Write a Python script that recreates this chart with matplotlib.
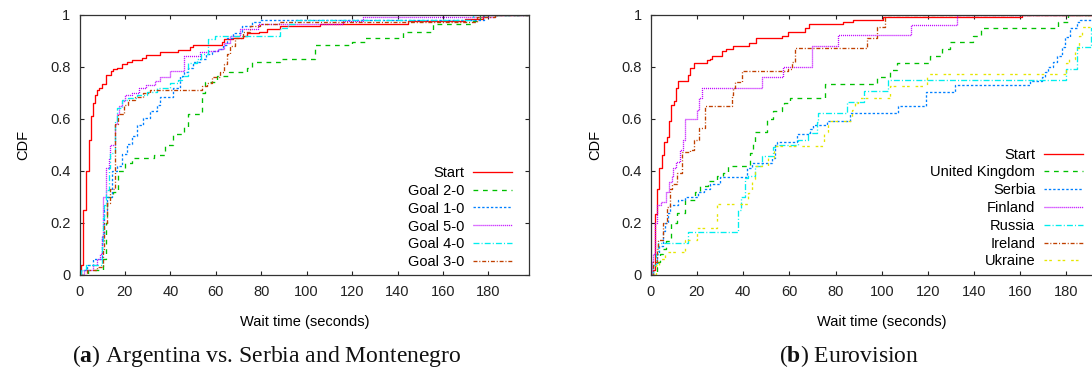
import matplotlib
matplotlib.use("Agg")
import matplotlib.pyplot as plt

plt.rcParams['font.family'] = ['Liberation Sans', 'DejaVu Sans']
plt.rcParams['mathtext.fontset'] = 'custom'
plt.rcParams['mathtext.rm'] = 'Liberation Serif'
plt.rcParams['mathtext.bf'] = 'Liberation Serif:bold'

# ---------------- data: panel (a) ----------------
a_labels = ["Start", "Goal 2-0", "Goal 1-0", "Goal 5-0", "Goal 4-0", "Goal 3-0"]

a_start_x = [0, 0.7, 1.7, 2.9, 4.0, 4.9, 5.8, 7.0, 7.9, 8.8, 9.8, 11.7, 13.7, 14.9, 16.7, 18.7, 20.7, 23.0,
             27.4, 29.3, 35.4, 43.5, 48.6, 50.1, 62.6, 63.6, 67.7, 71.8, 73.9, 79.2, 82.4, 88.3, 105.9,
             144.8, 169.8, 177.8, 200]
a_start_y = [0, 0.04, 0.25, 0.40, 0.52, 0.61, 0.66, 0.69, 0.71, 0.72, 0.735, 0.77, 0.785, 0.79, 0.795, 0.81,
             0.82, 0.825, 0.835, 0.845, 0.855, 0.865, 0.875, 0.885, 0.895, 0.905, 0.91, 0.92, 0.93, 0.935,
             0.945, 0.955, 0.965, 0.975, 0.985, 1.0, 1.0]

a_g20_x = [0, 3.9, 10.5, 11.5, 12.0, 14.9, 17.1, 19.9, 23.0, 33.0, 37.6, 41.3, 46.0, 47.9, 53.8, 55.3, 60.4,
           65.6, 73.6, 75.8, 88.3, 103.7, 119.8, 125.7, 142.6, 155.8, 173.4, 176.4, 200]
a_g20_y = [0, 0.02, 0.06, 0.20, 0.30, 0.32, 0.40, 0.43, 0.45, 0.46, 0.50, 0.54, 0.57, 0.62, 0.70, 0.74, 0.765,
           0.78, 0.795, 0.82, 0.83, 0.885, 0.895, 0.91, 0.935, 0.963, 0.976, 1.0, 1.0]

a_g10_x = [0, 0.8, 3.2, 6.1, 10.0, 11.0, 12.0, 14.2, 16.4, 18.6, 20.8, 23.0, 25.5, 28.1, 31.0, 34.0, 35.4,
           41.3, 44.2, 46.2, 47.9, 50.1, 53.0, 55.7, 58.2, 61.1, 63.3, 64.8, 67.7, 71.4, 75.8, 80.0, 178, 200]
a_g10_y = [0, 0.02, 0.04, 0.06, 0.15, 0.25, 0.30, 0.40, 0.42, 0.465, 0.505, 0.535, 0.575, 0.605, 0.63, 0.655,
           0.685, 0.72, 0.765, 0.78, 0.795, 0.82, 0.83, 0.85, 0.86, 0.87, 0.885, 0.91, 0.93, 0.955, 0.973,
           0.98, 1.0, 1.0]

a_g50_x = [0, 1.8, 6.1, 7.8, 9.0, 9.8, 10.5, 11.7, 12.8, 13.5, 15.7, 16.7, 17.6, 18.6, 20.0, 23.0, 26.3,
           29.4, 33.1, 35.4, 39.9, 46.2, 53.1, 56.8, 61.1, 63.5, 66.2, 70.7, 78.7, 116.2, 125.0, 183.0, 200]
a_g50_y = [0, 0.02, 0.04, 0.06, 0.08, 0.15, 0.30, 0.41, 0.45, 0.50, 0.58, 0.62, 0.65, 0.67, 0.69, 0.70, 0.72,
           0.73, 0.745, 0.76, 0.785, 0.84, 0.855, 0.86, 0.87, 0.89, 0.918, 0.945, 0.964, 0.975, 0.99, 1.0, 1.0]

a_g40_x = [0, 0.6, 2.7, 9.8, 10.3, 10.8, 11.7, 12.8, 13.5, 15.7, 16.7, 18.6, 21.5, 25.1, 29.7, 34.0, 39.9,
           43.5, 45.0, 47.9, 51.6, 53.5, 56.7, 59.7, 88.3, 92.0, 95.0, 173.0, 200]
a_g40_y = [0, 0.02, 0.04, 0.12, 0.22, 0.27, 0.327, 0.41, 0.47, 0.59, 0.64, 0.672, 0.68, 0.69, 0.704, 0.72,
           0.739, 0.75, 0.765, 0.813, 0.83, 0.85, 0.905, 0.92, 0.95, 0.965, 0.98, 1.0, 1.0]

a_g30_x = [0, 3.2, 7.6, 10.3, 11.0, 12.0, 13.5, 15.7, 17.0, 19.4, 21.5, 24.4, 28.1, 31.0, 53.8, 56.1, 58.2,
           61.8, 63.6, 64.8, 66.2, 68.5, 72.0, 75.1, 79.6, 88.0, 175.0, 183.0, 200]
a_g30_y = [0, 0.02, 0.03, 0.10, 0.20, 0.276, 0.33, 0.58, 0.62, 0.653, 0.672, 0.685, 0.698, 0.711, 0.725,
           0.739, 0.76, 0.78, 0.81, 0.85, 0.88, 0.909, 0.935, 0.955, 0.965, 0.973, 0.99, 1.0, 1.0]

# ---------------- data: panel (b) ----------------
b_labels = ["Start", "United Kingdom", "Serbia", "Finland", "Russia", "Ireland", "Ukraine"]

b_start_x = [0, 1.2, 1.9, 2.9, 3.8, 4.9, 5.8, 6.9, 8.1, 8.8, 10.1, 11.0, 12.0, 16.3, 17.0, 18.8, 24.5, 25.7,
             26.4, 30.7, 32.6, 35.8, 42.7, 45.6, 56.7, 59.6, 66.8, 68.7, 83.4, 87.7, 100.7, 160.6, 205]
b_start_y = [0, 0.02, 0.235, 0.33, 0.41, 0.46, 0.51, 0.53, 0.59, 0.655, 0.67, 0.72, 0.745, 0.77, 0.795,
             0.815, 0.825, 0.83, 0.84, 0.86, 0.87, 0.88, 0.89, 0.91, 0.92, 0.935, 0.95, 0.965, 0.972, 0.98,
             0.99, 1.0, 1.0]

b_uk_x = [0, 2.6, 3.3, 4.0, 5.2, 6.6, 8.7, 11.5, 14.9, 19.2, 21.4, 25.0, 28.6, 31.5, 33.6, 43.0, 44.4, 45.0,
          50.2, 53.1, 56.7, 57.7, 60.3, 75.5, 97.8, 103.5, 106.7, 120.9, 126.0, 129.6, 139.7, 142.9, 176.5,
          180.8, 205]
b_uk_y = [0, 0.03, 0.05, 0.08, 0.10, 0.13, 0.20, 0.24, 0.29, 0.32, 0.34, 0.36, 0.38, 0.39, 0.42, 0.47, 0.51,
          0.55, 0.60, 0.63, 0.65, 0.66, 0.68, 0.735, 0.762, 0.788, 0.816, 0.843, 0.868, 0.896, 0.919, 0.948,
          0.973, 1.0, 1.0]

b_serbia_x = [0, 1.2, 2.6, 3.8, 5.2, 6.2, 7.6, 8.4, 12.0, 14.9, 20.6, 23.0, 25.7, 30.0, 41.6, 43.7, 52.4,
              53.8, 54.8, 63.2, 69.0, 70.4, 76.2, 86.3, 107.2, 119.2, 131.7, 164.2, 169.3, 170.8, 172.2,
              174.3, 175.7, 177.9, 179.3, 181.4, 184.6, 185.7, 205]
b_serbia_y = [0, 0.04, 0.08, 0.11, 0.17, 0.20, 0.24, 0.27, 0.29, 0.30, 0.32, 0.33, 0.35, 0.375, 0.41, 0.43,
              0.45, 0.50, 0.51, 0.54, 0.56, 0.575, 0.593, 0.621, 0.649, 0.702, 0.73, 0.745, 0.76, 0.78, 0.80,
              0.82, 0.84, 0.877, 0.916, 0.948, 0.971, 0.98, 0.98]

b_finland_x = [0, 0.4, 0.9, 1.9, 2.6, 4.3, 6.6, 8.1, 9.1, 9.8, 11.0, 12.7, 14.1, 14.9, 20.2, 21.1, 22.1,
               48.1, 57.4, 69.7, 81.2, 112.7, 132.7, 205]
b_finland_y = [0, 0.05, 0.08, 0.20, 0.27, 0.28, 0.32, 0.358, 0.38, 0.41, 0.435, 0.48, 0.52, 0.60, 0.634,
               0.68, 0.72, 0.76, 0.80, 0.88, 0.922, 0.96, 1.0, 1.0]

b_russia_x = [0, 1.2, 2.3, 3.3, 16.3, 38.0, 39.0, 40.8, 42.3, 45.2, 48.0, 53.1, 54.5, 63.9, 68.3, 71.9, 72.5,
              84.8, 92.2, 102.6, 179.8, 184.6, 190.8, 205]
b_russia_y = [0, 0.04, 0.08, 0.122, 0.166, 0.25, 0.30, 0.371, 0.38, 0.42, 0.458, 0.49, 0.50, 0.52, 0.544,
              0.589, 0.624, 0.666, 0.707, 0.749, 0.791, 0.875, 0.95, 0.95]

b_ireland_x = [0, 1.2, 2.6, 3.3, 5.5, 7.0, 8.4, 9.1, 11.5, 13.4, 16.8, 18.8, 21.1, 23.5, 35.1, 35.8, 36.5,
               39.4, 59.6, 61.0, 62.5, 93.5, 97.8, 101.4, 205]
b_ireland_y = [0, 0.05, 0.10, 0.134, 0.20, 0.26, 0.33, 0.35, 0.39, 0.474, 0.48, 0.519, 0.563, 0.649, 0.69,
               0.72, 0.74, 0.784, 0.79, 0.82, 0.871, 0.909, 0.954, 1.0, 1.0]

b_ukraine_x = [0, 2.3, 3.8, 6.2, 14.9, 20.2, 28.9, 42.3, 43.7, 45.2, 50.9, 53.4, 75.0, 76.9, 87.0, 88.4,
               89.9, 103.5, 119.6, 179.8, 181.0, 183.7, 185.5, 186.5, 205]
b_ukraine_y = [0, 0.04, 0.06, 0.09, 0.134, 0.179, 0.273, 0.316, 0.37, 0.42, 0.45, 0.497, 0.55, 0.592, 0.634,
               0.66, 0.681, 0.727, 0.772, 0.813, 0.83, 0.871, 0.92, 0.954, 0.954]

x_ticks = [0, 20, 40, 60, 80, 100, 120, 140, 160, 180]
y_ticks = [0, 0.2, 0.4, 0.6, 0.8, 1.0]
y_ticklabels = ["0", "0.2", "0.4", "0.6", "0.8", "1"]

# ---------------- styles ----------------
RED, GREEN, BLUE, PURPLE, CYAN, BROWN, YELLOW = ("#ff0000", "#00c000", "#0080ff", "#c000ff",
                                                 "#00eeee", "#c04000", "#e6e600")
LW = 0.95
st_solid = dict(color=RED, lw=LW)
st_green = dict(color=GREEN, lw=LW, dashes=(3.6, 3.6))
st_blue = dict(color=BLUE, lw=LW, dashes=(1.8, 1.5))
st_purple = dict(color=PURPLE, lw=LW, dashes=(0.8, 0.7))
st_cyan = dict(color=CYAN, lw=LW, dashes=(4.5, 1.6, 0.8, 1.6))
st_brown = dict(color=BROWN, lw=LW, dashes=(3.0, 1.4, 0.8, 1.4))
st_yellow = dict(color=YELLOW, lw=LW, dashes=(2.0, 1.6, 2.0, 4.5))

FS = 10.5
W, H = 1092, 370
fig = plt.figure(figsize=(W / 100, H / 100), dpi=100)

ax1 = fig.add_axes([79.5 / W, 95 / H, 449.8 / W, 260.3 / H])
ax2 = fig.add_axes([650.7 / W, 95 / H, 462.0 / W, 260.3 / H])


def style_axes(ax, xmax):
    ax.set_xlim(0, xmax)
    ax.set_ylim(0, 1)
    ax.set_xticks(x_ticks)
    ax.set_yticks(y_ticks)
    ax.set_yticklabels(y_ticklabels)
    ax.tick_params(direction="in", length=3.2, width=0.8, top=True, right=True,
                   labelsize=FS, colors="#222222")
    ax.tick_params(axis="x", pad=7.5)
    ax.tick_params(axis="y", pad=6.5)
    for s in ax.spines.values():
        s.set_color("#333333")
        s.set_linewidth(0.9)
    ax.set_xlabel("Wait time (seconds)", fontsize=FS, labelpad=11)
    ax.set_ylabel("CDF", fontsize=FS, labelpad=14)


a_series = [(a_start_x, a_start_y, st_solid), (a_g20_x, a_g20_y, st_green), (a_g10_x, a_g10_y, st_blue),
            (a_g50_x, a_g50_y, st_purple), (a_g40_x, a_g40_y, st_cyan), (a_g30_x, a_g30_y, st_brown)]
for (xs, ys, st), lab in zip(a_series, a_labels):
    ax1.step(xs, ys, where="post", label=lab, **st)

b_series = [(b_start_x, b_start_y, st_solid), (b_uk_x, b_uk_y, st_green),
            (b_serbia_x, b_serbia_y, st_blue), (b_finland_x, b_finland_y, st_purple),
            (b_russia_x, b_russia_y, st_cyan), (b_ireland_x, b_ireland_y, st_brown),
            (b_ukraine_x, b_ukraine_y, st_yellow)]
for (xs, ys, st), lab in zip(b_series, b_labels):
    ax2.step(xs, ys, where="post", label=lab, **st)

style_axes(ax1, 198)
style_axes(ax2, 200)

leg_kw = dict(frameon=False, markerfirst=False, fontsize=FS, handlelength=2.67, handletextpad=0.6,
              borderpad=0, borderaxespad=0, loc="lower right", bbox_transform=fig.transFigure)
ax1.legend(bbox_to_anchor=(511.7 / W, (H - 269.4) / H), labelspacing=0.27, **leg_kw)
ax2.legend(bbox_to_anchor=(1083.0 / W, (H - 268.4) / H), labelspacing=0.26, **leg_kw)

cap_kw = dict(fontsize=17, family="Liberation Serif", ha="center", va="baseline", color="#111111")
fig.text(267 / W, (H - 362) / H, r"($\mathbf{a}$) Argentina vs. Serbia and Montenegro", **cap_kw)
fig.text(849 / W, (H - 362) / H, r"($\mathbf{b}$) Eurovision", **cap_kw)

fig.savefig("out.png", dpi=100)
